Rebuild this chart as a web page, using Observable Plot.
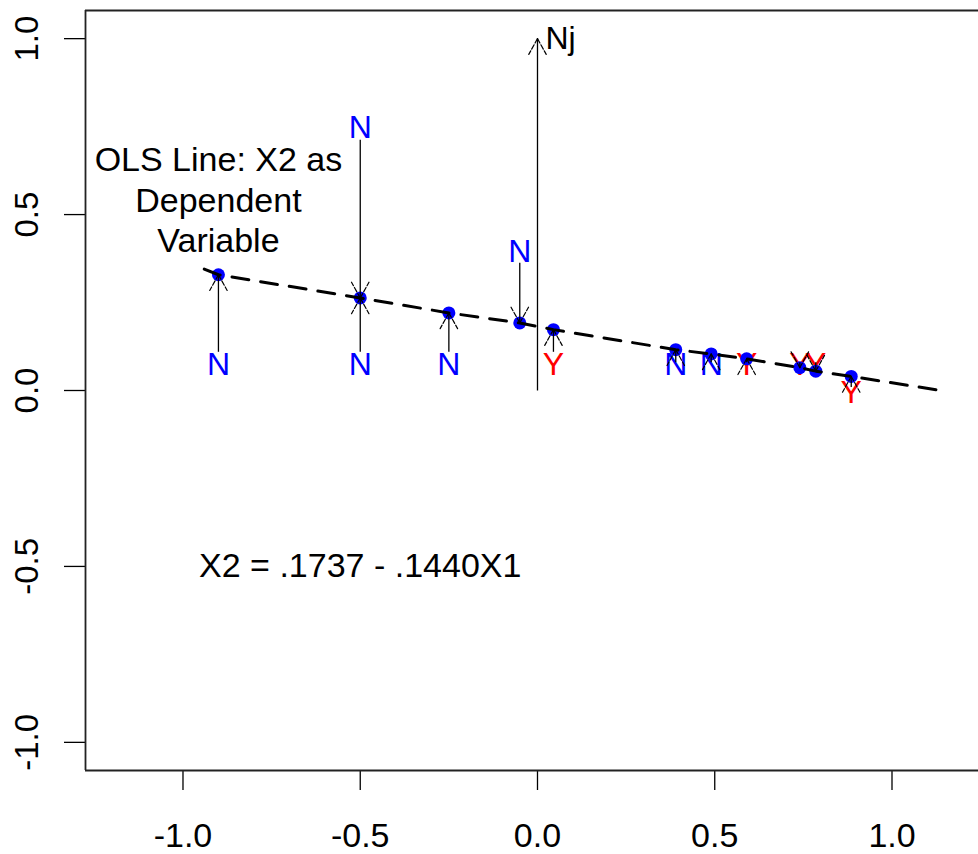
<!DOCTYPE html>
<html>
<head>
<meta charset="utf-8">
<script src="https://cdn.jsdelivr.net/npm/d3@7"></script>
<script src="https://cdn.jsdelivr.net/npm/@observablehq/plot@0.6"></script>
<style>
  html, body { margin: 0; padding: 0; background: #ffffff; overflow: hidden; }
  #chart svg { display: block; }
</style>
</head>
<body>
<div id="chart"></div>
<script>
// ---- axes ----
const xDomain = [-1.275, 1.244];
const yDomain = [-1.08, 1.08];
const xTicks = [-1, -0.5, 0, 0.5, 1];
const xTickLabels = ["-1.0", "-0.5", "0.0", "0.5", "1.0"];
const yTicks = [-1, -0.5, 0, 0.5, 1];
const yTickLabels = ["-1.0", "-0.5", "0.0", "0.5", "1.0"];

// ---- fitted points (blue) ----
const pointX = [-0.9, -0.5, -0.25, -0.05, 0.045, 0.39, 0.49, 0.59, 0.74, 0.785, 0.885];
const pointY = [0.329, 0.263, 0.2205, 0.192, 0.173, 0.116, 0.104, 0.090, 0.065, 0.055, 0.040];

// ---- OLS dashed line ----
const lineX = [-0.94, -0.9, -0.5, -0.25, -0.05, 0.045, 0.39, 0.49, 0.59, 0.74, 0.785, 0.885, 1.15];
const lineY = [0.345, 0.329, 0.263, 0.2205, 0.192, 0.173, 0.116, 0.104, 0.090, 0.065, 0.055, 0.040, -0.002];

// ---- observation labels ----
const labelX = [-0.9, -0.5, -0.5, -0.25, -0.05, 0.045, 0.39, 0.49, 0.59, 0.74, 0.785, 0.885];
const labelY = [0.074, 0.074, 0.748, 0.074, 0.395, 0.074, 0.074, 0.074, 0.074, 0.074, 0.074, -0.007];
const labelText = ["N", "N", "N", "N", "N", "Y", "N", "N", "Y", "Y", "Y", "Y"];

// ---- arrows (observation -> fitted) ----
const arrowX = [-0.9, -0.5, -0.5, -0.25, -0.05, 0.045, 0.39, 0.49, 0.59, 0.74, 0.785, 0.885, 0];
const arrowFrom = [0.11, 0.11, 0.713, 0.11, 0.363, 0.11, 0.08, 0.08, 0.08, 0.08, 0.08, 0.01, 0];
const arrowTo = [0.329, 0.263, 0.263, 0.2205, 0.192, 0.173, 0.116, 0.104, 0.090, 0.065, 0.055, 0.040, 1.0];

// ---- annotations ----
const njText = ["Nj"]; const njX = [0]; const njY = [1.0];
const olsText = ["OLS Line: X2 as\nDependent\nVariable"]; const olsX = [-0.9]; const olsY = [0.545];
const eqText = ["X2 = .1737 - .1440X1"]; const eqX = [-0.5]; const eqY = [-0.5];

const labels = labelX.map((x, i) => ({x, y: labelY[i], t: labelText[i]}));
const points = pointX.map((x, i) => ({x, y: pointY[i]}));
const lineData = lineX.map((x, i) => ({x, y: lineY[i]}));
const arrows = arrowX.map((x, i) => ({x, y1: arrowFrom[i], y2: arrowTo[i]}));
// arrowhead wings: two short strokes from each tip, pointing back along the shaft
const wingHalfAngle = 29;
const wings = arrows.flatMap(a => {
  const back = a.y2 > a.y1 ? 180 : 0; // up-pointing arrow -> wings go down
  return [{x: a.x, y: a.y2, r: back - wingHalfAngle}, {x: a.x, y: a.y2, r: back + wingHalfAngle}];
});
const nj = njX.map((x, i) => ({x, y: njY[i], t: njText[i]}));
const ols = olsX.map((x, i) => ({x, y: olsY[i], t: olsText[i]}));
const eq = eqX.map((x, i) => ({x, y: eqY[i], t: eqText[i]}));

const lineShape = {draw(context, l) { context.moveTo(0, 0); context.lineTo(0, -l); }};
const font = "'Liberation Sans', Arial, Helvetica, sans-serif";

const chart = Plot.plot({
  width: 978,
  height: 854,
  marginLeft: 85,
  marginRight: 0,
  marginTop: 10,
  marginBottom: 84,
  style: {background: "#ffffff", fontFamily: font, color: "#000"},
  x: {domain: xDomain, label: null},
  y: {domain: yDomain, label: null},
  marks: [
    Plot.axisX({ticks: xTicks, tickSize: 20, tickPadding: 32, fontSize: 34, strokeWidth: 1.3,
      tickFormat: d => xTickLabels[xTicks.indexOf(d)], label: null}),
    Plot.axisY({ticks: yTicks, tickSize: 21, tickFormat: () => "", strokeWidth: 1.3, label: null}),
    Plot.text(yTicks, {y: d => d, text: (d, i) => yTickLabels[i], frameAnchor: "left", dx: -58,
      rotate: -90, textAnchor: "middle", lineAnchor: "middle", fontSize: 33, fill: "#000"}),
    // frame (left, top, bottom)
    Plot.ruleX([xDomain[0]], {stroke: "#222", strokeWidth: 1.8}),
    Plot.ruleY([yDomain[0], yDomain[1]], {stroke: "#222", strokeWidth: 1.8}),
    // observation labels
    Plot.text(labels, {x: "x", y: "y", text: "t", fontSize: 32,
      fill: d => d.t === "Y" ? "#ff0000" : "#0000ff"}),
    // fitted points
    Plot.dot(points, {x: "x", y: "y", r: 6.5, fill: "#0000ff", stroke: "none"}),
    // OLS dashed line
    Plot.line(lineData, {x: "x", y: "y", stroke: "#000", strokeWidth: 3, strokeDasharray: "17,12"}),
    // arrow shafts
    Plot.link(arrows, {x: "x", y1: "y1", y2: "y2", stroke: "#000", strokeWidth: 1.3}),
    // arrow heads
    Plot.vector(wings, {x: "x", y: "y", rotate: "r", length: 18, anchor: "start", shape: lineShape,
      stroke: "#000", strokeWidth: 1.2, strokeDasharray: "5,2"}),
    // annotations
    Plot.text(nj, {x: "x", y: "y", text: "t", fontSize: 32, textAnchor: "start", dx: 8, fill: "#000"}),
    Plot.text(ols, {x: "x", y: "y", text: "t", fontSize: 34, lineHeight: 1.18, fill: "#000"}),
    Plot.text(eq, {x: "x", y: "y", text: "t", fontSize: 34, fill: "#000"})
  ]
});
document.getElementById("chart").appendChild(chart);
</script>
</body>
</html>
